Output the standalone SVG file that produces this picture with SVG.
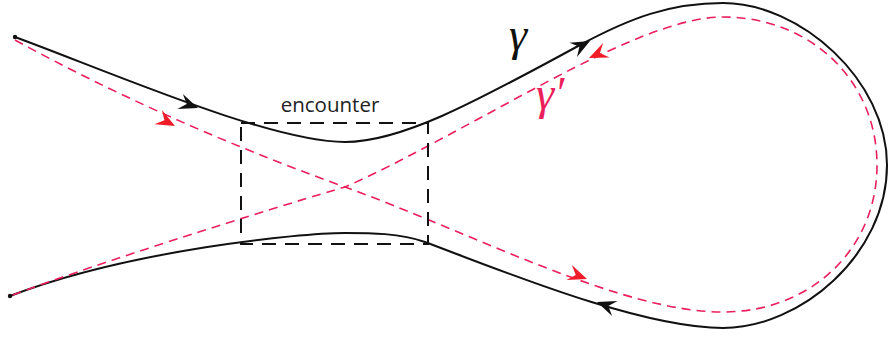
<svg xmlns="http://www.w3.org/2000/svg" xmlns:xlink="http://www.w3.org/1999/xlink" width="889" height="338" viewBox="0 0 889 338">
<style>
.orbit{fill:none;stroke:#111;stroke-width:2}
.partner{fill:none;stroke:#ea1f5c;stroke-width:1.6;stroke-dasharray:9 6}
.box{fill:none;stroke:#111;stroke-width:2;stroke-dasharray:14 9}
.lbl{font-family:"Open Sans",sans-serif;font-size:20.5px;fill:#222}
.greek{font-family:"Liberation Serif",serif;font-style:italic;font-size:46px}
</style>
<defs>
<path id="ah" d="M0,0 L-19,-8 L-12,0 L-19,8 Z"/>
</defs>
<rect width="889" height="338" fill="#fff"/>
<g id="connectors">
<path class="orbit" d="M15,37 C110,72 270,142 345,142 C400,142 470,105 580,45 C630,18 670,3 723,3 C800,3 887,80 887,165 C887,255 800,328 723,328 C640,328 500,270 425,242 C400,233 370,233 345,233 C300,233 130,250 10,296"/>
<path class="partner" d="M15,40 C110,92 220,142 345,187 C470,232 620,312 723,312 C810,312 877,250 877,165 C877,80 810,17 723,17 C660,17 560,75 480,118 C430,145 380,172 345,187 C300,200 120,255 10,296"/>
<circle cx="15" cy="37" r="2.2" fill="#111"/>
<circle cx="10" cy="296" r="2.2" fill="#111"/>
<use xlink:href="#ah" fill="#111" transform="translate(198,108) rotate(20)"/>
<use xlink:href="#ah" fill="#111" transform="translate(590,41) rotate(-28)"/>
<use xlink:href="#ah" fill="#111" transform="translate(597,302) rotate(200)"/>
<use xlink:href="#ah" fill="#f01c28" transform="translate(175,126) rotate(28)"/>
<use xlink:href="#ah" fill="#f01c28" transform="translate(589,58) rotate(156)"/>
<use xlink:href="#ah" fill="#f01c28" transform="translate(587,279) rotate(20)"/>
</g>
<g id="encounter">
<rect class="box" x="241" y="123" width="187" height="121"/>
<text class="lbl" x="330" y="112" text-anchor="middle">encounter</text>
</g>
<g id="labels">
<text class="greek" x="509" y="50" fill="#111">γ</text>
<text class="greek" x="536" y="109" fill="#ea1f5c">γ′</text>
</g>
</svg>
